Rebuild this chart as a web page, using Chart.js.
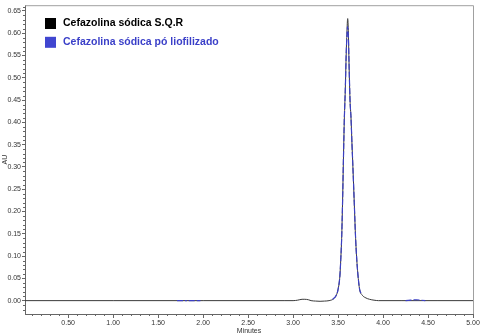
<!DOCTYPE html>
<html>
<head>
<meta charset="utf-8">
<script src="https://cdn.jsdelivr.net/npm/chart.js@4.4.1/dist/chart.umd.min.js"></script>
<style>
html,body{margin:0;padding:0;background:#fff;}
#wrap{width:482px;height:336px;}
</style>
</head>
<body>
<div id="wrap"><canvas id="c" width="482" height="336"></canvas></div>
<script>
// ---- Data ----
const seriesNames = ['Cefazolina sódica S.Q.R', 'Cefazolina sódica pó liofilizado'];
const xTicks = [0.50, 1.00, 1.50, 2.00, 2.50, 3.00, 3.50, 4.00, 4.50, 5.00];
const yTicks = [0.00, 0.05, 0.10, 0.15, 0.20, 0.25, 0.30, 0.35, 0.40, 0.45, 0.50, 0.55, 0.60, 0.65];

// Reference standard (black): [minutes, AU]
const sqrMinutes = [0.02, 1.00, 2.00, 2.90, 3.00, 3.05, 3.10, 3.13, 3.17, 3.20, 3.25, 3.30, 3.35, 3.40, 3.45, 3.48, 3.50, 3.52, 3.53, 3.54, 3.55, 3.56, 3.57, 3.58, 3.59, 3.60, 3.607, 3.615, 3.62, 3.633, 3.644, 3.655, 3.665, 3.68, 3.695, 3.708, 3.72, 3.74, 3.77, 3.80, 3.85, 3.90, 3.95, 4.20, 4.60, 5.00];
const sqrAU      = [0.000, 0.000, 0.000, 0.000, 0.000, 0.001, 0.003, 0.003, 0.002, 0.000, -0.001, -0.0015, -0.001, 0.000, 0.004, 0.012, 0.025, 0.055, 0.092, 0.14, 0.22, 0.32, 0.41, 0.47, 0.55, 0.61, 0.633, 0.60, 0.55, 0.45, 0.41, 0.35, 0.30, 0.22, 0.14, 0.092, 0.06, 0.025, 0.012, 0.007, 0.003, 0.001, 0.000, 0.000, 0.000, 0.000];

// Lyophilized powder (blue): visible parts only, null = gap
const liofMinutes = [1.71, 1.82, 1.83, 1.84, 1.97, 2.5, 3.44, 3.48, 3.50, 3.52, 3.53, 3.54, 3.55, 3.56, 3.57, 3.58, 3.59, 3.60, 3.605, 3.615, 3.62, 3.633, 3.644, 3.655, 3.665, 3.68, 3.695, 3.708, 3.72, 3.74, 3.76, 4.0, 4.25, 4.31, 4.37, 4.42, 4.47];
const liofAU      = [0.000, 0.000, null, 0.000, 0.000, null, 0.003, 0.012, 0.025, 0.055, 0.092, 0.14, 0.22, 0.32, 0.41, 0.47, 0.55, 0.60, 0.615, 0.59, 0.55, 0.45, 0.41, 0.35, 0.30, 0.22, 0.14, 0.092, 0.06, 0.025, 0.015, null, 0.000, 0.001, 0.002, 0.001, 0.000];

const colBlack = '#3a3a3a';
const colBlue = '#3b3fc4';

function pts(xs, ys){ return xs.map((x,i)=>({x:x, y:ys[i]})); }

const FONT = 'Arial, "Liberation Sans", sans-serif';

const decorPlugin = {
  id: 'decor',
  afterDraw(chart){
    const ctx = chart.ctx, a = chart.chartArea;
    const xs = chart.scales.x, ys = chart.scales.y;
    ctx.save();
    // frame top and right
    ctx.strokeStyle = '#a0a0a0';
    ctx.lineWidth = 1;
    ctx.beginPath();
    ctx.moveTo(a.left, a.top + 0.5); ctx.lineTo(a.right + 0.5, a.top + 0.5);
    ctx.lineTo(a.right + 0.5, a.bottom);
    ctx.stroke();
    // minor ticks
    ctx.strokeStyle = '#666';
    ctx.beginPath();
    for (let i = 1; i < 50; i++) {
      if (i % 5 === 0) continue;
      const px = Math.round(xs.getPixelForValue(i / 10)) + 0.5;
      ctx.moveTo(px, a.bottom); ctx.lineTo(px, a.bottom + 2);
    }
    for (let i = -2; i <= 66; i++) {
      if (i % 5 === 0) continue;
      const py = Math.round(ys.getPixelForValue(i / 100)) + 0.5;
      ctx.moveTo(a.left - 2, py); ctx.lineTo(a.left, py);
    }
    ctx.stroke();
    // legend inside plot
    const items = chart.data.datasets;
    ctx.textBaseline = 'middle';
    ctx.font = 'bold 10.5px ' + FONT;
    items.forEach((ds, i) => {
      const cy = 23.5 + i * 18.8;
      ctx.fillStyle = ds.legendColor;
      ctx.fillRect(45, cy - 5.5, 11, 11);
      ctx.fillStyle = ds.legendText;
      ctx.fillText(ds.label, 63, cy);
    });
    ctx.restore();
  }
};

new Chart(document.getElementById('c'), {
  type: 'scatter',
  data: {
    datasets: [
      {
        label: seriesNames[0],
        data: pts(sqrMinutes, sqrAU),
        showLine: true,
        borderColor: colBlack,
        borderWidth: 1,
        pointRadius: 0,
        cubicInterpolationMode: 'monotone',
        legendColor: '#000000',
        legendText: '#000000',
        order: 2
      },
      {
        label: seriesNames[1],
        data: pts(liofMinutes, liofAU),
        showLine: true,
        spanGaps: false,
        borderColor: colBlue,
        borderWidth: 1.2,
        borderDash: [6, 2],
        pointRadius: 0,
        cubicInterpolationMode: 'monotone',
        legendColor: '#4046d0',
        legendText: '#3a3fc8',
        order: 1
      }
    ]
  },
  options: {
    responsive: false,
    animation: false,
    events: [],
    layout: { padding: { top: 5, right: 9, left: 0, bottom: 0 } },
    plugins: { legend: { display: false }, tooltip: { enabled: false } },
    scales: {
      x: {
        type: 'linear',
        min: 0.02,
        max: 5.0,
        afterBuildTicks: s => { s.ticks = xTicks.map(v => ({ value: v })); },
        afterFit: s => { s.height = 22; },
        ticks: {
          callback: v => Number(v).toFixed(2),
          font: { size: 7, family: FONT },
          color: '#333',
          padding: 1,
          maxRotation: 0,
          autoSkip: false
        },
        grid: { drawOnChartArea: false, tickLength: 4, color: '#666', lineWidth: 1 },
        border: { color: '#666', width: 1 },
        title: { display: true, text: 'Minutes', font: { size: 7, family: FONT }, color: '#333', padding: { top: 0, bottom: 1 } }
      },
      y: {
        type: 'linear',
        min: -0.03,
        max: 0.663,
        afterBuildTicks: s => { s.ticks = yTicks.map(v => ({ value: v })); },
        afterFit: s => { s.width = 25; },
        ticks: {
          callback: v => Number(v).toFixed(2),
          font: { size: 7, family: FONT },
          color: '#333',
          padding: 1,
          autoSkip: false
        },
        grid: { drawOnChartArea: false, tickLength: 3, color: '#666', lineWidth: 1 },
        border: { color: '#666', width: 1 },
        title: { display: true, text: 'AU', font: { size: 7, family: FONT }, color: '#333', padding: { top: 1, bottom: 0 } }
      }
    }
  },
  plugins: [decorPlugin]
});
</script>
</body>
</html>
